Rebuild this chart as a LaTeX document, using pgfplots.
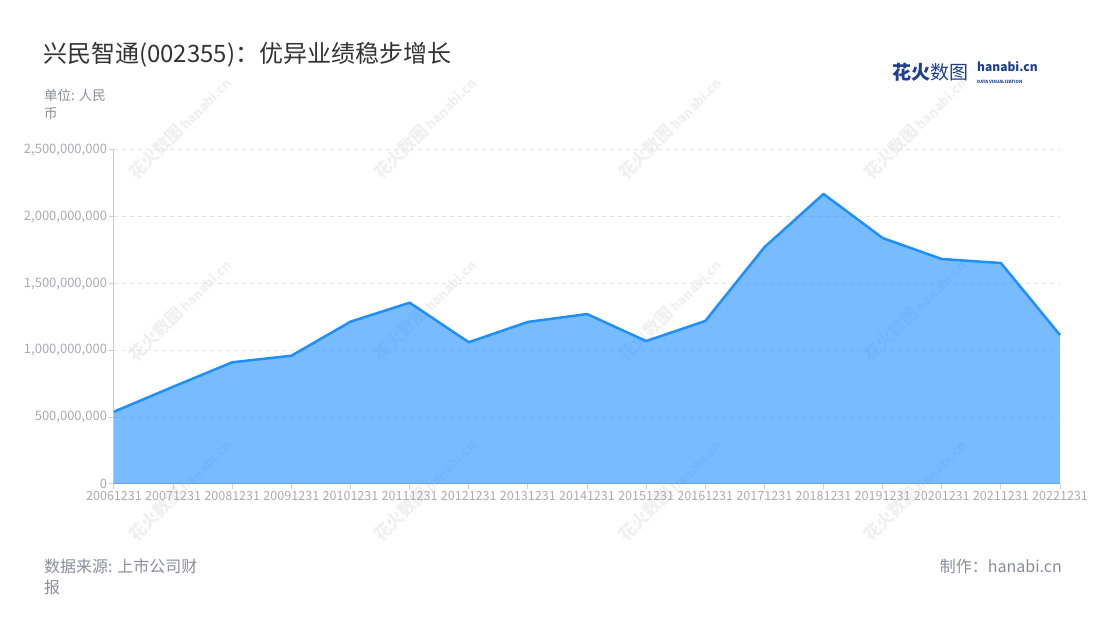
\documentclass[border=0pt]{standalone}
\usepackage{fontspec}
\setmainfont{Noto Sans CJK SC}
\usepackage{pgfplots}
\pgfplotsset{compat=1.18}
\definecolor{lineblue}{HTML}{1E8FFF}
\definecolor{titlec}{HTML}{333333}
\definecolor{subc}{HTML}{8C8C99}
\definecolor{tickc}{HTML}{AAAAB2}
\definecolor{axisc}{HTML}{CCCCCC}
\definecolor{gridc}{HTML}{E3E3E3}
\definecolor{logoc}{HTML}{1D3F8F}
\begin{document}
\begin{tikzpicture}[x=1pt,y=1pt]
\path[use as bounding box] (0,0) rectangle (1100,620);
% watermarks
\foreach \wx in {180,425,670,915}{
  \foreach \wy in {128,310,490}{
    \node[rotate=45,text=black!6,font=\fontsize{17}{17}\selectfont\bfseries] at (\wx,620-\wy) {花火数图\,{\fontsize{13}{13}\selectfont hanabi.cn}};
  }
}
\begin{axis}[
  at={(114pt,136pt)}, anchor=south west,
  scale only axis, width=946pt, height=334pt,
  xmin=0, xmax=16, ymin=0, ymax=2.5e9,
  xtick={0,...,16},
  xticklabels={20061231,20071231,20081231,20091231,20101231,20111231,20121231,20131231,20141231,20151231,20161231,20171231,20181231,20191231,20201231,20211231,20221231},
  ytick={0,500000000,1000000000,1500000000,2000000000,2500000000},
  scaled y ticks=false,
  yticklabel style={xshift=1.5pt, /pgf/number format/fixed, /pgf/number format/precision=0, /pgf/number format/1000 sep={,}, /pgf/number format/assume math mode=true},
  axis x line*=bottom, axis y line*=left,
  axis line style={axisc, line width=1pt},
  tick style={axisc, line width=1pt},
  major tick length=5pt, tick align=outside,
  ymajorgrids,
  grid style={gridc, dash pattern=on 4pt off 4pt, line width=1pt},
  ticklabel style={font=\fontsize{13}{13}\selectfont, text=tickc},
  xticklabel style={yshift=1pt, font=\fontsize{12.6}{12.6}\selectfont},
  clip=false,
]
\addplot[fill=lineblue, fill opacity=0.6, draw=none] coordinates {
(0,541000000) (1,728000000) (2,911000000) (3,960000000) (4,1215000000) (5,1357000000) (6,1061000000) (7,1213000000) (8,1272000000) (9,1070000000) (10,1220000000) (11,1772000000) (12,2171000000) (13,1841000000) (14,1684000000) (15,1654000000) (16,1115000000)
} \closedcycle;
\addplot[lineblue, line width=2.5pt, line join=round] coordinates {
(0,541000000) (1,728000000) (2,911000000) (3,960000000) (4,1215000000) (5,1357000000) (6,1061000000) (7,1213000000) (8,1272000000) (9,1070000000) (10,1220000000) (11,1772000000) (12,2171000000) (13,1841000000) (14,1684000000) (15,1654000000) (16,1115000000)
};
\end{axis}
% title
\node[anchor=base west, text=titlec, font=\fontsize{24}{24}\selectfont, inner sep=0] at (43,620-63) {兴民智通(002355)：优异业绩稳步增长};
\node[anchor=base west, text=subc, font=\fontsize{13.5}{13.5}\selectfont, inner sep=0] at (44,620-101) {单位: 人民};
\node[anchor=base west, text=subc, font=\fontsize{13.5}{13.5}\selectfont, inner sep=0] at (44,620-119) {币};
% logo
\node[anchor=base west, text=logoc, font=\fontsize{19}{19}\selectfont\bfseries, inner sep=0] at (892,620-80) {花火{\mdseries 数图}};
\node[anchor=base west, text=logoc, font=\fontsize{12}{12}\selectfont\bfseries, inner sep=0] at (977,620-72) {hanabi.cn};
\node[anchor=base west, text=logoc, font=\fontsize{4.3}{4.3}\selectfont\bfseries, inner sep=0] at (977,620-84) {DATA VISUALIZATION};
% footer
\node[anchor=base west, text=subc, font=\fontsize{16}{16}\selectfont, inner sep=0] at (44,620-573) {数据来源: 上市公司财};
\node[anchor=base west, text=subc, font=\fontsize{16}{16}\selectfont, inner sep=0] at (44,620-594) {报};
\node[anchor=base east, text=subc, font=\fontsize{16}{16}\selectfont, inner sep=0] at (1062,620-573) {制作：hanabi.cn};
\end{tikzpicture}
\end{document}
